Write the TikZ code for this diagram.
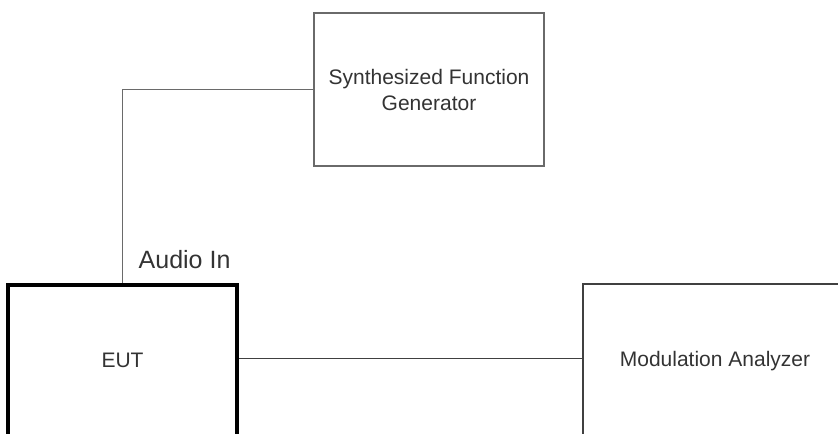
\documentclass[tikz,border=0pt]{standalone}
\usepackage{fontspec}
\setmainfont{Liberation Sans}
\usetikzlibrary{positioning}

\definecolor{linegray}{HTML}{6A6A6A}
\definecolor{textgray}{HTML}{333333}

\tikzset{
  unit/.style={draw=linegray, line width=1.4pt, minimum width=172.5pt,
    minimum height=114.75pt, inner sep=0pt, align=center,
    font=\fontsize{15.75}{19.5}\selectfont, text=textgray},
  % lower boxes run past the bottom edge of the picture
  cutbox/.style={unit, anchor=north, minimum height=121.5pt, text depth=9pt},
  eutbox/.style={cutbox, draw=black, line width=2.8pt, minimum width=171.75pt},
  wire/.style={draw=linegray, line width=1.3pt}
}

\begin{document}
\begin{tikzpicture}[x=0.75pt,y=-0.75pt]
      \useasboundingbox (0,0) rectangle (838,433);
      \clip (0,0) rectangle (838,433);
      \node [unit] (gen) at (429,89.5) {Synthesized Function\\Generator};
      \node [eutbox] (eut) at (122.5,283) {EUT};
      \node [cutbox, draw=black!75, minimum width=198pt] (ana) at (715,283) {Modulation Analyzer};
      \coordinate (tap) at (eut.east |- 0,358.5);
      \draw [wire] (gen.west) -| (eut.north);
      \draw [wire, draw=black!75] (tap) -- (tap -| ana.west);
      \node [anchor=base west, text=textgray, font=\fontsize{18.75}{22}\selectfont] (audio) at (134,268) {Audio In};
    \end{tikzpicture}
\end{document}
